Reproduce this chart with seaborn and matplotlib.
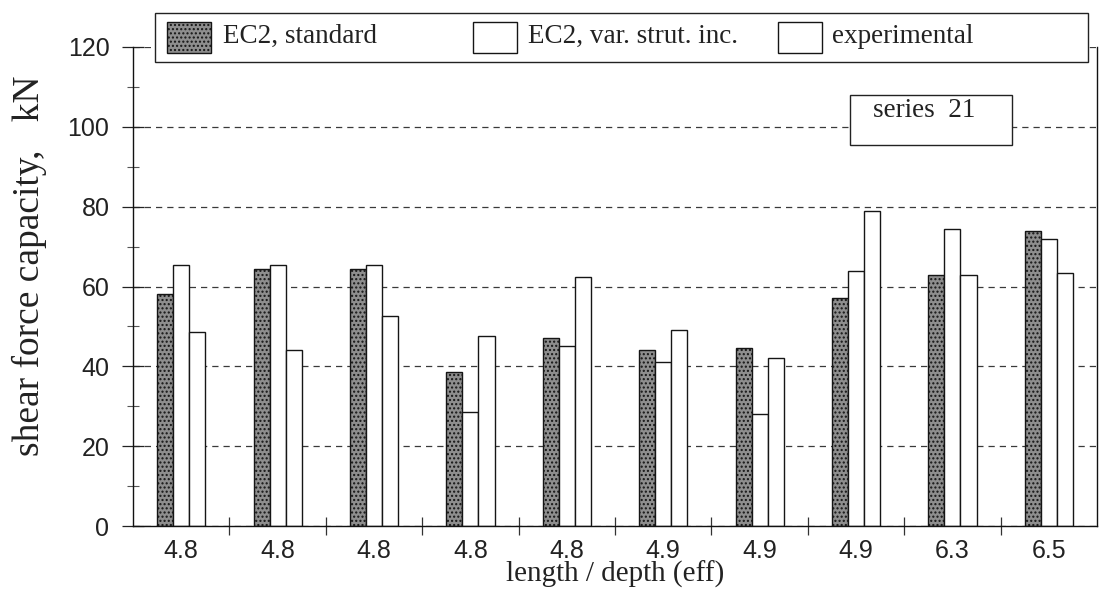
import numpy as np
import pandas as pd
import matplotlib
matplotlib.use("Agg")
import matplotlib.pyplot as plt
import seaborn as sns
from matplotlib.patches import Rectangle
from matplotlib.ticker import MultipleLocator, FixedLocator

# length / effective depth of each beam in the series
slenderness = ["4.8", "4.8", "4.8", "4.8", "4.8", "4.9", "4.9", "4.9", "6.3", "6.5"]
# shear force capacity, kN
ec2_standard = [58.0, 64.5, 64.5, 38.5, 47.0, 44.0, 44.5, 57.0, 63.0, 74.0]
ec2_var_strut = [65.5, 65.5, 65.5, 28.5, 45.0, 41.0, 28.0, 64.0, 74.5, 72.0]
experimental = [48.5, 44.0, 52.5, 47.5, 62.5, 49.0, 42.0, 79.0, 63.0, 63.5]
series_names = ["EC2, standard", "EC2, var. strut. inc.", "experimental"]

beams = [f"b{i + 1}" for i in range(len(slenderness))]
df = pd.DataFrame({
    "beam": beams * 3,
    "series": np.repeat(series_names, len(beams)),
    "value": ec2_standard + ec2_var_strut + experimental,
})

sns.set_theme(style="white")
plt.rcParams["font.family"] = ["Liberation Sans", "DejaVu Sans"]
SERIF = ["Liberation Serif", "DejaVu Serif"]

W, H = 1102, 592
fig = plt.figure(figsize=(W / 100, H / 100), dpi=100)
fig.patch.set_facecolor("white")


def fx(px):
    return px / W


def fy(py):
    return 1 - py / H


ax = fig.add_axes([fx(133), fy(526), fx(1097) - fx(133), fy(47) - fy(526)])

STIPPLE_FACE = "#8e8e8e"
EDGE = "#151515"
sns.barplot(data=df, x="beam", y="value", hue="series", order=beams,
            hue_order=series_names, palette=[STIPPLE_FACE, "white", "white"],
            width=0.5, gap=0, edgecolor=EDGE, linewidth=1.0, saturation=1,
            ax=ax, legend=False)
for bar in ax.containers[0]:
    bar.set_hatch("....")

ax.set_ylim(0, 120)
ax.set_xlim(-0.5, len(beams) - 0.5)
ax.yaxis.set_major_locator(MultipleLocator(20))
ax.yaxis.set_minor_locator(MultipleLocator(10))
ax.set_axisbelow(True)
ax.yaxis.grid(True, which="major", linestyle=(0, (5, 4)), color="#3a3a3a", linewidth=0.9)
ax.xaxis.grid(False)

ax.set_xticks(range(len(beams)))
ax.set_xticklabels(slenderness)
ax.xaxis.set_minor_locator(FixedLocator(np.arange(0.5, len(beams) - 1, 1.0)))
ax.tick_params(axis="x", which="major", length=0, pad=9, labelsize=18, colors="#222")
ax.tick_params(axis="x", which="minor", direction="inout", length=13, width=0.9,
               color="#333", bottom=True)
ax.tick_params(axis="y", which="major", direction="inout", length=16, width=0.9,
               color="#222", pad=9, labelsize=18, labelcolor="#222", left=True)
ax.tick_params(axis="y", which="minor", direction="inout", length=8, width=0.8,
               color="#555", left=True)

for side in ("left", "bottom", "right"):
    ax.spines[side].set_visible(True)
    ax.spines[side].set_color("#111")
    ax.spines[side].set_linewidth(1.0)
ax.spines["top"].set_visible(False)

ax.set_ylabel("shear force capacity,   kN", fontfamily=SERIF, fontsize=27, color="#222")
ax.yaxis.set_label_coords(-0.089, 0.543)
ax.set_xlabel("length / depth (eff)", fontfamily=SERIF, fontsize=21, color="#222")
ax.xaxis.set_label_coords(0.5, -0.072)

# legend strip across the top
fig.add_artist(Rectangle((fx(155), fy(62)), fx(1088) - fx(155), fy(13) - fy(62),
                         transform=fig.transFigure, facecolor="white",
                         edgecolor="#222", linewidth=1.0, zorder=5))
handles_x = [167, 473, 778]
texts_x = [223, 528, 832]
for i, name in enumerate(series_names):
    face = STIPPLE_FACE if i == 0 else "white"
    fig.add_artist(Rectangle((fx(handles_x[i]), fy(53)), fx(44), fy(22) - fy(53),
                             transform=fig.transFigure, facecolor=face,
                             edgecolor=EDGE, linewidth=1.0,
                             hatch="...." if i == 0 else None, zorder=6))
    fig.text(fx(texts_x[i]), fy(43), name, fontfamily=SERIF, fontsize=19.5,
             color="#222", va="baseline", ha="left", zorder=6)

# series tag box
fig.add_artist(Rectangle((fx(850), fy(145)), fx(1012) - fx(850), fy(95) - fy(145),
                         transform=fig.transFigure, facecolor="white",
                         edgecolor="#222", linewidth=1.0, zorder=5))
fig.text(fx(873), fy(117), "series  21", fontfamily=SERIF, fontsize=19.5,
         color="#222", va="baseline", ha="left", zorder=6)

fig.savefig("out.png", dpi=100)
